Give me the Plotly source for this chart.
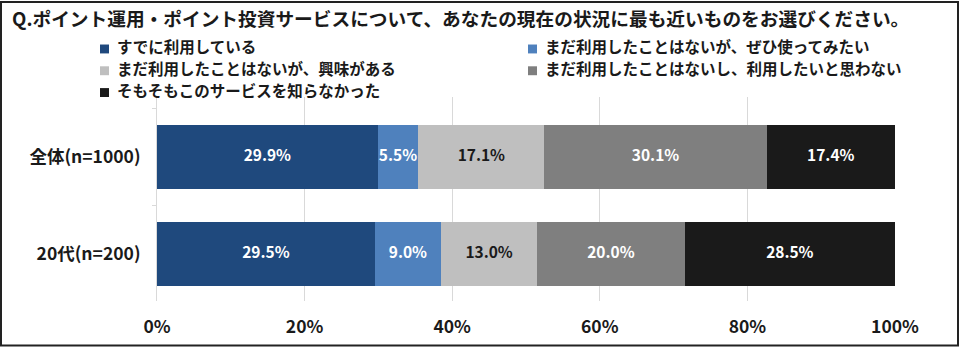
import plotly.graph_objects as go

# Survey groups (top to bottom) and answer options
groups = ["全体(n=1000)", "20代(n=200)"]
options = [
    "すでに利用している",
    "まだ利用したことはないが、ぜひ使ってみたい",
    "まだ利用したことはないが、興味がある",
    "まだ利用したことはないし、利用したいと思わない",
    "そもそもこのサービスを知らなかった",
]
# Share (%) of each option per group
already_using = [29.9, 29.5]
want_to_try = [5.5, 9.0]
interested = [17.1, 13.0]
not_interested = [30.1, 20.0]
never_heard = [17.4, 28.5]
x_ticks = [0, 20, 40, 60, 80, 100]
x_tick_labels = ["0%", "20%", "40%", "60%", "80%", "100%"]

series = [already_using, want_to_try, interested, not_interested, never_heard]
colors = ["#1F497D", "#4F81BD", "#BFBFBF", "#7F7F7F", "#1A1A1A"]
label_colors = ["white", "white", "#1a1a1a", "white", "white"]

FONT = "Noto Sans CJK JP"
W, H = 960, 350
ML, MR, MT, MB = 157, 65, 97, 47
PW, PH = W - ML - MR, H - MT - MB


def px_x(px):
    return (px - ML) / PW


def px_y(py):
    return (H - MB - py) / PH


fig = go.Figure()
base = [0.0] * len(groups)
for name, vals, col, lcol in zip(options, series, colors, label_colors):
    fig.add_trace(go.Bar(
        y=groups, x=vals, name=name, orientation="h",
        marker=dict(color=col, line=dict(width=0)),
        hoverinfo="skip", showlegend=False,
    ))
    # value labels centred on each segment
    mids = [b + v / 2 for b, v in zip(base, vals)]
    fig.add_trace(go.Scatter(
        y=groups, x=mids, mode="text",
        text=[f"{v:.1f}%" for v in vals],
        textposition="middle center",
        textfont=dict(family=FONT, size=15.5, color=lcol, weight="bold"),
        hoverinfo="skip", showlegend=False, cliponaxis=False,
    ))
    base = [b + v for b, v in zip(base, vals)]

fig.update_layout(
    width=W, height=H,
    margin=dict(l=ML, r=MR, t=MT, b=MB),
    barmode="stack", bargap=0.34,
    plot_bgcolor="white", paper_bgcolor="white",
    font=dict(family=FONT, color="#1a1a1a"),
    showlegend=False,
    xaxis=dict(
        range=[0, 100], tickvals=x_ticks, ticktext=x_tick_labels,
        showgrid=True, gridcolor="#D9D9D9", gridwidth=1,
        zeroline=False, showline=False, ticks="",
        ticklabelstandoff=13,
        tickfont=dict(family=FONT, size=17.5, color="#1a1a1a", weight="bold"),
        fixedrange=True,
    ),
    yaxis=dict(
        categoryorder="array", categoryarray=groups,
        range=[1.485, -0.617],
        showline=True, linecolor="#D9D9D9", linewidth=1,
        ticks="outside", tickson="boundaries", ticklen=4, tickcolor="#D9D9D9",
        ticklabelstandoff=12,
        tickfont=dict(family=FONT, size=17.5, color="#1a1a1a", weight="bold"),
        fixedrange=True,
    ),
)

# Legend: two columns, filled row by row
col_x = [100, 528]
row_y = [46, 68, 90]
for i, (name, col) in enumerate(zip(options, colors)):
    cx = col_x[i % 2]
    cy = row_y[i // 2]
    fig.add_shape(
        type="rect", xref="paper", yref="paper",
        x0=px_x(cx), x1=px_x(cx + 9), y0=px_y(cy + 7), y1=px_y(cy - 2),
        line=dict(width=0), fillcolor=col,
    )
    fig.add_annotation(
        text=name, xref="paper", yref="paper",
        x=px_x(cx + 15), y=px_y(cy), xanchor="left", yanchor="middle",
        showarrow=False,
        font=dict(family=FONT, size=15.5, color="#1a1a1a", weight="bold"),
    )

fig.add_annotation(
    text="Q.ポイント運用・ポイント投資サービスについて、あなたの現在の状況に最も近いものをお選びください。",
    xref="paper", yref="paper",
    x=px_x(10), y=px_y(17),
    xanchor="left", yanchor="middle", showarrow=False,
    font=dict(family=FONT, size=18.7, color="#1a1a1a", weight="bold"),
)

# Frame around the whole figure
fig.add_shape(
    type="rect", xref="paper", yref="paper",
    x0=px_x(1), x1=px_x(W - 2), y0=px_y(H - 2), y1=px_y(1),
    line=dict(color="#222222", width=2), fillcolor="rgba(0,0,0,0)",
    layer="above",
)

fig.write_html("out.html", config={"displayModeBar": False})
